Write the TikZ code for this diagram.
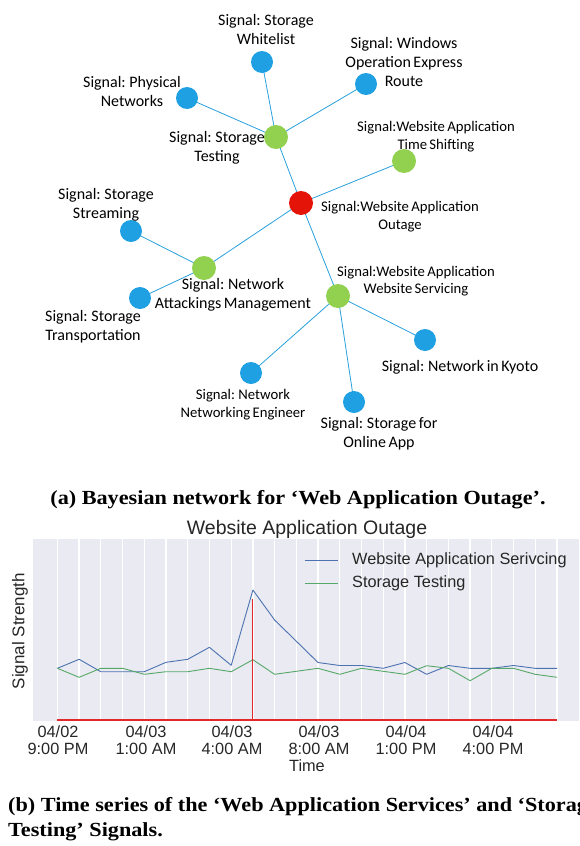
\documentclass[tikz,border=0pt]{standalone}
\usepackage{fontspec}
\setmainfont{Liberation Serif}
\newfontfamily\capfont[FakeStretch=1.11]{Liberation Serif}
\newfontfamily\lblfont[WordSpace=0.7]{Carlito}
\newfontfamily\plotfont{Liberation Sans}
\usetikzlibrary{backgrounds}

\definecolor{nodeblue}{RGB}{30,160,226}
\definecolor{nodegreen}{RGB}{146,208,80}
\definecolor{nodered}{RGB}{228,20,8}
\definecolor{edgeblue}{RGB}{40,160,220}
\definecolor{sbbg}{RGB}{234,234,242}
\definecolor{sbblue}{RGB}{76,114,176}
\definecolor{sbgreen}{RGB}{85,168,104}
\definecolor{markred}{RGB}{226,40,40}

\tikzset{
  sig/.style={circle, inner sep=0pt, minimum size=22pt},
  bluesig/.style={sig, fill=nodeblue},
  greensig/.style={sig, fill=nodegreen, minimum size=24pt},
  redsig/.style={sig, fill=nodered, minimum size=24pt},
  lbl/.style={font=\lblfont\fontsize{16}{19}\selectfont, align=center, inner sep=0pt},
  lblsmall/.style={font=\lblfont\fontsize{14.7}{17.5}\selectfont, align=center, inner sep=0pt},
  link/.style={edgeblue, line width=0.8pt},
  caption/.style={font=\capfont\bfseries\fontsize{20}{24}\selectfont, inner sep=0pt},
  ticklbl/.style={font=\plotfont\fontsize{16.3}{16.5}\selectfont, align=center, inner sep=0pt, text=black!85},
  gridline/.style={white, line width=1.3pt},
}

\begin{document}
\begin{tikzpicture}[x=1pt,y=-1pt]
\useasboundingbox (0,0) rectangle (579,846);

% ---------- Bayesian network ----------
\node[bluesig]  (whitelist) at (262,62)  {};
\node[bluesig]  (windows)   at (366,84)  {};
\node[bluesig]  (physical)  at (187,98)  {};
\node[greensig] (stortest)  at (276,137) {};
\node[greensig] (timeshift) at (404,161) {};
\node[redsig]   (outage)    at (301,203) {};
\node[bluesig]  (streaming) at (131,231) {};
\node[greensig] (attack)    at (204,268) {};
\node[bluesig]  (transport) at (140,298) {};
\node[greensig] (servicing) at (338,296) {};
\node[bluesig]  (kyoto)     at (425,340) {};
\node[bluesig]  (neteng)    at (251,373) {};
\node[bluesig]  (onlineapp) at (354,402) {};

\begin{scope}[on background layer]
  \draw[link] (whitelist.center) -- (stortest.center);
  \draw[link] (physical.center)  -- (stortest.center);
  \draw[link] (windows.center)   -- (stortest.center);
  \draw[link] (stortest.center)  -- (outage.center);
  \draw[link] (timeshift.center) -- (outage.center);
  \draw[link] (outage.center)    -- (attack.center);
  \draw[link] (streaming.center) -- (attack.center);
  \draw[link] (transport.center) -- (attack.center);
  \draw[link] (outage.center)    -- (servicing.center);
  \draw[link] (servicing.center) -- (kyoto.center);
  \draw[link] (servicing.center) -- (neteng.center);
  \draw[link] (servicing.center) -- (onlineapp.center);
\end{scope}

\node[lbl]      (l-whitelist) at (266,30)    {Signal: Storage\\Whitelist};
\node[lbl]      (l-windows)   at (404,62)    {Signal: Windows\\Operation Express\\Route};
\node[lbl]      (l-physical)  at (132,91.5)  {Signal: Physical\\Networks};
\node[lbl]      (l-stortest)  at (217,148)   {Signal: Storage\\Testing};
\node[lblsmall] (l-timeshift) at (436,136.5) {Signal:Website Application\\Time Shifting};
\node[lblsmall] (l-outage)    at (400,216.5) {Signal:Website Application\\Outage};
\node[lbl]      (l-streaming) at (106,205)   {Signal: Storage\\Streaming};
\node[lbl]      (l-attack)    at (233,294.5) {Signal: Network\\Attackings Management};
\node[lbl]      (l-transport) at (93,327)    {Signal: Storage\\Transportation};
\node[lblsmall] (l-servicing) at (416,281)   {Signal:Website Application\\Website Servicing};
\node[lbl]      (l-kyoto)     at (460,367)   {Signal: Network in Kyoto};
\node[lblsmall] (l-neteng)    at (243,404.5) {Signal: Network\\Networking Engineer};
\node[lbl]      (l-onlineapp) at (379,433.5) {Signal: Storage for\\Online App};

\node[caption] (capa) at (298,500) {(a) Bayesian network for ‘Web Application Outage’.};

% ---------- Time series plot ----------
\fill[sbbg] (33,539) rectangle (579,721);
\foreach \i in {0,...,23} {
  \draw[gridline] ({57.4+21.72*\i},539) -- ({57.4+21.72*\i},721);
}
\node[font=\plotfont\fontsize{19.5}{20}\selectfont, text=black!85, inner sep=0pt] (ptitle) at (307,529) {Website Application Outage};

% series: x = 57.4 + 21.72 * index
\draw[sbblue, line width=0.9pt, line join=round] plot coordinates {
  (57.4,668.3) (79.1,659.3) (100.8,671.7) (122.6,671.7) (144.3,671.7) (166.0,662.3)
  (187.7,659.3) (209.4,647.3) (231.2,665.3) (252.9,590.0) (274.6,620.0) (296.3,641.2)
  (318.0,662.5) (339.8,665.5) (361.5,665.5) (383.2,668.3) (404.9,662.5) (426.6,674.3)
  (448.4,665.5) (470.1,668.3) (491.8,668.3) (513.5,665.5) (535.2,668.3) (557.0,668.3)};
\draw[sbgreen, line width=0.9pt, line join=round] plot coordinates {
  (57.4,668.3) (79.1,677.3) (100.8,668.3) (122.6,668.3) (144.3,674.3) (166.0,671.7)
  (187.7,671.7) (209.4,668.3) (231.2,671.7) (252.9,659.7) (274.6,674.3) (296.3,671.3)
  (318.0,668.3) (339.8,674.3) (361.5,668.3) (383.2,671.3) (404.9,674.3) (426.6,665.7)
  (448.4,668.3) (470.1,680.7) (491.8,668.3) (513.5,668.3) (535.2,674.3) (557.0,677.3)};

% event marker and time axis highlight
\draw[markred, line width=1pt] (252.9,599) -- (252.9,721);
\draw[markred, line width=1.8pt] (57.4,720) -- (557,720);

% legend
\coordinate (lgA1) at (305,560); \coordinate (lgA2) at (338,560);
\coordinate (lgB1) at (305,583); \coordinate (lgB2) at (338,583);
\draw[sbblue, line width=0.9pt] (lgA1) -- (lgA2);
\draw[sbgreen, line width=0.9pt] (lgB1) -- (lgB2);
\node[ticklbl, anchor=west] (lg-a) at (352,560) {Website Application Serivcing};
\node[ticklbl, anchor=west] (lg-b) at (352,583) {Storage Testing};

% axes labels
\node[font=\plotfont\fontsize{17}{18}\selectfont, text=black!85, rotate=90, inner sep=0pt] (ylab) at (20,631) {Signal Strength};
\node[ticklbl] (t0) at (58,740)  {04/02\\9:00 PM};
\node[ticklbl] (t1) at (146,740) {04/03\\1:00 AM};
\node[ticklbl] (t2) at (232,740) {04/03\\4:00 AM};
\node[ticklbl] (t3) at (319,740) {04/03\\8:00 AM};
\node[ticklbl] (t4) at (406,740) {04/04\\1:00 PM};
\node[ticklbl] (t5) at (493,740) {04/04\\4:00 PM};
\node[ticklbl] (xlab) at (307,766) {Time};

\node[caption, anchor=west] (capb1) at (8,807) {(b) Time series of the ‘Web Application Services’ and ‘Storage};
\node[caption, anchor=west] (capb2) at (8,832) {Testing’ Signals.};
\end{tikzpicture}
\end{document}
